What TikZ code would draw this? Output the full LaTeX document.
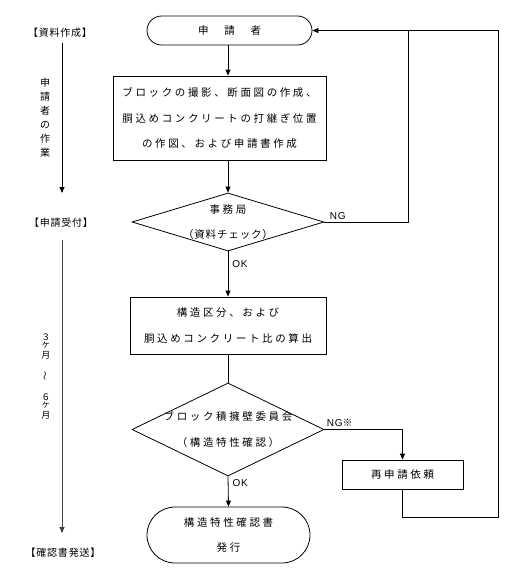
\documentclass[tikz,border=0pt]{standalone}
\usepackage{fontspec}
\usetikzlibrary{arrows.meta,shapes.geometric,shapes.misc}
\newfontfamily\jp[LetterSpace=25]{Noto Sans CJK JP}
\newfontfamily\jpn[LetterSpace=8]{Noto Sans CJK JP}
\newfontfamily\jpplain{Noto Sans CJK JP}
\newfontfamily\lat[LetterSpace=8]{Liberation Sans}
\tikzset{
  x=1pt, y=-1pt,
  every path/.style={line width=0.8pt},
  arr/.style={-{Triangle[length=6pt,width=5pt]}},
  boxtxt/.style={font=\jp\fontsize{10.5}{25.5}\selectfont, align=center},
  procbox/.style={draw, rectangle, inner sep=0pt},
  term/.style={draw, rounded rectangle, rounded rectangle arc length=180, inner sep=0pt},
  dec/.style={draw, diamond, inner sep=0pt, aspect=1},
  sidelbl/.style={font=\jpn\fontsize{10}{12}\selectfont},
  vtxt/.style={font=\jpplain\fontsize{10}{14}\selectfont, align=center},
  small/.style={font=\jpplain\fontsize{9}{9}\selectfont, inner sep=0pt},
  lbl/.style={font=\lat\fontsize{10}{12}\selectfont, inner sep=0pt},
}
\begin{document}
\begin{tikzpicture}
\useasboundingbox (0,0) rectangle (512,571);
% main nodes
\node[term, minimum width=165pt, minimum height=29pt, boxtxt] (t1) at (229.5,30.5) {申　請　者};
\node[procbox, minimum width=213pt, minimum height=84pt, boxtxt] (b1) at (219.5,118)
  {ブロックの撮影、断面図の作成、\\胴込めコンクリートの打継ぎ位置\\の作図、および申請書作成};
\node[dec, minimum width=192pt, minimum height=58pt,
  label={[boxtxt]center:{事務局\\{\jpn（資料チェック）}}}] (d1) at (228,222) {};
\node[procbox, minimum width=196pt, minimum height=57pt, boxtxt] (b2) at (228,325.5)
  {構造区分、および\\胴込めコンクリート比の算出};
\node[dec, minimum width=192pt, minimum height=93pt,
  label={[boxtxt]center:{ブロック積擁壁委員会\\（構造特性確認）}}] (d2) at (228,429.5) {};
\node[procbox, minimum width=121pt, minimum height=29pt, boxtxt] (b3) at (402.5,474.5) {再申請依頼};
\node[term, minimum width=163pt, minimum height=56pt, boxtxt] (t2) at (228.5,535)
  {構造特性確認書\\発行};
% helper coordinates
\coordinate (c1) at (408,30.5);
\coordinate (c2) at (402.5,517);
\coordinate (c3) at (498,517);
\coordinate (c4) at (498,30.5);
% connectors
\draw[arr] (d1.north |- t1.south) -- (d1.north |- b1.north);
\draw[arr] (d1.north |- b1.south) -- (d1.north);
\draw[arr] (d1.south) -- node[lbl, right, pos=0.28, xshift=4pt] (ok1) {OK} (b2.north);
\draw (b2.south) -- (d2.north);
\draw[arr] (d2.south) -- node[lbl, right, pos=0.22, xshift=4pt] (ok2) {OK} (t2.north);
\draw (d1.east) -| (c1);
\node[lbl, anchor=south west] (ng1) at ([xshift=5pt,yshift=2pt]d1.east) {NG};
\draw[arr] (d2.east) -| (b3.north);
\node[lbl, anchor=south west] (ng2) at ([xshift=2pt,yshift=3pt]d2.east) {NG{\jpplain ※}};
\draw[arr] (b3.south) -- (c2) -- (c3) -- (c4) -- (t1.east);
% left time line
\node[sidelbl] (l1) at (60,33) {【資料作成】};
\node[sidelbl] (l2) at (61,223) {【申請受付】};
\node[sidelbl] (l3) at (63,553) {【確認書発送】};
\coordinate (a1) at (62,43);
\coordinate (a2) at (62,193);
\coordinate (a3) at (62,240);
\coordinate (a4) at (62,533);
\draw[arr] (a1) -- (a2);
\draw[arr, draw=black!75] (a3) -- (a4);
\node[vtxt] (v1) at (45,118) {申\\請\\者\\の\\作\\業};
\node[small] (s1) at (46,337) {３};
\node[small] (s2) at (46,345.5) {ヶ};
\node[small] (s3) at (46,355) {月};
\node[small, rotate=90] (s4) at (46,376) {～};
\node[small] (s5) at (46,397) {６};
\node[small] (s6) at (46,405.5) {ヶ};
\node[small] (s7) at (46,415) {月};
\end{tikzpicture}
\end{document}
